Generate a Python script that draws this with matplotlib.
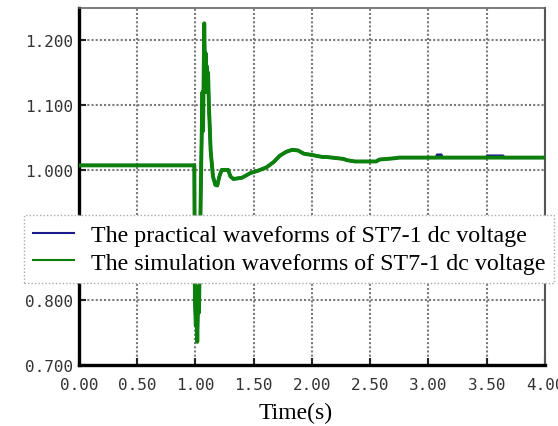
import matplotlib.pyplot as plt

# simulation waveform (green)
sim_t = [0.0, 0.99, 0.995, 1.003, 1.008, 1.015, 1.022, 1.03, 1.04, 1.05, 1.06, 1.065,
         1.075, 1.082, 1.087, 1.092, 1.097, 1.102, 1.108, 1.115, 1.13, 1.15, 1.17, 1.187,
         1.205, 1.225, 1.24, 1.28, 1.30, 1.325, 1.40, 1.47, 1.54, 1.61, 1.67, 1.725,
         1.78, 1.83, 1.88, 1.93, 2.0, 2.09, 2.12, 2.27, 2.30, 2.37, 2.55, 2.58, 2.71,
         2.75, 4.0]
sim_v = [1.007, 1.007, 0.80, 0.76, 0.82, 0.735, 0.80, 0.78, 0.90, 1.02, 1.12, 1.06,
         1.226, 1.14, 1.18, 1.12, 1.16, 1.13, 1.15, 1.10, 1.03, 0.99, 0.977, 0.976,
         0.99, 1.0, 1.0, 1.0, 0.99, 0.986, 0.988, 0.995, 0.999, 1.004, 1.012, 1.022,
         1.028, 1.031, 1.03, 1.025, 1.023, 1.020, 1.020, 1.017, 1.015, 1.013, 1.013,
         1.016, 1.018, 1.019, 1.019]

# practical waveform (blue), mostly hidden under the green one
prac_t = [0.0, 0.99, 0.995, 1.003, 1.008, 1.015, 1.022, 1.03, 1.04, 1.05, 1.06, 1.065,
          1.075, 1.082, 1.087, 1.092, 1.097, 1.102, 1.108, 1.115, 1.13, 1.15, 1.17, 1.187,
          1.205, 1.225, 1.24, 1.28, 1.30, 1.325, 1.40, 1.47, 1.54, 1.61, 1.67, 1.725,
          1.78, 1.83, 1.88, 1.93, 2.0, 2.09, 2.12, 2.27, 2.30, 2.37, 2.55, 2.58, 2.71,
          2.75, 3.07, 3.075, 3.11, 3.115, 3.50, 3.505, 3.64, 3.645, 4.0]
prac_v = [1.007, 1.007, 0.80, 0.76, 0.82, 0.735, 0.80, 0.78, 0.90, 1.02, 1.12, 1.06,
          1.226, 1.14, 1.18, 1.12, 1.16, 1.13, 1.15, 1.10, 1.03, 0.99, 0.977, 0.976,
          0.99, 1.0, 1.0, 1.0, 0.99, 0.986, 0.988, 0.995, 0.999, 1.004, 1.012, 1.022,
          1.028, 1.031, 1.03, 1.025, 1.023, 1.020, 1.020, 1.017, 1.015, 1.013, 1.013,
          1.016, 1.018, 1.019, 1.019, 1.023, 1.023, 1.019, 1.019, 1.0215, 1.0215,
          1.019, 1.019]

x_ticks = [0.0, 0.5, 1.0, 1.5, 2.0, 2.5, 3.0, 3.5, 4.0]
y_ticks = [0.7, 0.8, 0.9, 1.0, 1.1, 1.2]
y_labels = ['0.700', '0.800', '', '1.000', '1.100', '1.200']

fig = plt.figure(figsize=(5.58, 4.27), dpi=100)
ax = fig.add_axes([0.1416, 0.144, 0.835, 0.834])

ax.plot(prac_t, prac_v, color='#1c1c8e', lw=2.2, zorder=3,
        label='The practical waveforms of ST7-1 dc voltage')
ax.plot(sim_t, sim_v, color='#0b800b', lw=2.8, zorder=4,
        label='The simulation waveforms of ST7-1 dc voltage')

ax.set_xlim(0, 4.0)
ax.set_ylim(0.7, 1.249)
ax.set_xticks(x_ticks)
ax.set_xticklabels([f'{t:.2f}' for t in x_ticks])
ax.set_yticks(y_ticks)
ax.set_yticklabels(y_labels)
ax.grid(True, color='#7a7a7a', linestyle=(0, (1, 1)), lw=1.5)
ax.tick_params(direction='in', length=5, width=1.5, colors='#222222',
               labelsize=11.5, labelcolor='#333333')
ax.tick_params(axis='x', pad=9)
ax.tick_params(axis='y', pad=4)
for lab in ax.get_xticklabels() + ax.get_yticklabels():
    lab.set_family('DejaVu Sans Mono')

ax.spines['left'].set_linewidth(2.4)
ax.spines['bottom'].set_linewidth(2.4)
ax.spines['top'].set_color('#666666')
ax.spines['right'].set_color('#555555')
ax.spines['top'].set_linewidth(1.2)
ax.spines['right'].set_linewidth(1.5)

ax.set_xlabel('Time(s)', family='Liberation Serif', fontsize=17)
ax.xaxis.label.set_va('center')
ax.xaxis.set_label_coords((296 - 79) / 466, -48 / 356)

leg = ax.legend(loc='upper left', bbox_to_anchor=(24 / 558, 1 - 216 / 427),
                bbox_transform=fig.transFigure, prop={'family': 'Liberation Serif', 'size': 17.3},
                frameon=True, fancybox=False, borderaxespad=0, borderpad=0.38,
                labelspacing=0.25, handlelength=1.7, handletextpad=0.7)
leg.get_frame().set_edgecolor('#aaaaaa')
leg.get_frame().set_linestyle((0, (1, 1.5)))
leg.get_frame().set_linewidth(1.0)
leg.get_frame().set_alpha(1.0)
for line in leg.get_lines():
    line.set_linewidth(1.5)

fig.savefig('out.png', dpi=100)
